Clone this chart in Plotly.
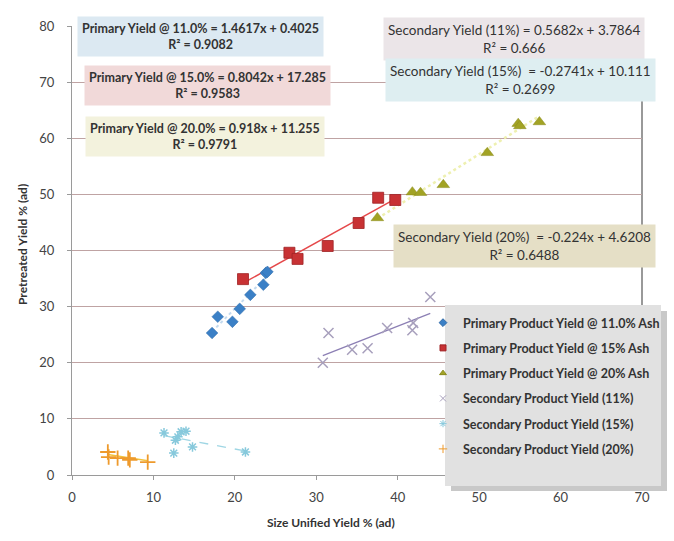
import plotly.graph_objects as go

# ---- data ----
p11_x = [17.2, 17.9, 19.7, 20.6, 21.9, 23.5, 23.8, 24.0]
p11_y = [25.3, 28.2, 27.3, 29.6, 32.1, 33.9, 36.0, 36.2]

p15_x = [21.0, 26.7, 27.7, 31.4, 35.2, 37.6, 39.7]
p15_y = [34.9, 39.6, 38.5, 40.8, 44.9, 49.4, 49.0]

p20_x = [37.5, 41.8, 42.8, 45.6, 51.0, 54.8, 55.0, 57.4]
p20_y = [45.8, 50.4, 50.3, 51.7, 57.4, 62.6, 62.2, 62.9]

s11_x = [30.8, 31.5, 34.4, 36.3, 38.7, 41.8, 41.9, 44.0]
s11_y = [20.0, 25.3, 22.3, 22.6, 26.2, 25.8, 27.1, 31.7]

s15_x = [11.3, 12.7, 13.0, 13.4, 14.0, 12.5, 14.8, 21.3]
s15_y = [7.5, 6.2, 6.8, 7.7, 7.8, 3.9, 5.0, 4.1]

s20_x = [4.4, 4.5, 5.6, 6.9, 7.1, 9.3]
s20_y = [4.1, 3.2, 3.0, 3.0, 2.7, 2.3]

# trendline coefficients (slope, intercept, R^2) as printed on chart
fit_p11 = (1.4617, 0.4025, 0.9082)
fit_p15 = (0.8042, 17.285, 0.9583)
fit_p20 = (0.918, 11.255, 0.9791)
fit_s11 = (0.5682, 3.7864, 0.666)
fit_s15 = (-0.2741, 10.111, 0.2699)
fit_s20 = (-0.224, 4.6208, 0.6488)

legend_names = [
    "Primary Product Yield @ 11.0% Ash",
    "Primary Product Yield @ 15% Ash",
    "Primary Product Yield @ 20% Ash",
    "Secondary Product Yield (11%)",
    "Secondary Product Yield (15%)",
    "Secondary Product Yield (20%)",
]

FONT = "Lato, Carlito, 'Open Sans', sans-serif"

fig = go.Figure()

def trend(xs, fit, color, dash, width=1.5):
    x0, x1 = min(xs), max(xs)
    m, b, _ = fit
    fig.add_trace(go.Scatter(x=[x0, x1], y=[m * x0 + b, m * x1 + b], mode="lines",
                             line=dict(color=color, dash=dash, width=width),
                             showlegend=False, hoverinfo="skip"))

# trendlines first (beneath markers)
trend(p11_x, fit_p11, "#c4daee", "dot", 2)
trend(p15_x, fit_p15, "#e5484a", "solid", 1.5)
trend(p20_x, fit_p20, "#eef0b0", "dot", 2.5)
trend(s11_x, fit_s11, "#8c7fb4", "solid", 1.3)
trend(s15_x, fit_s15, "#9fd6e4", "dash", 1.3)
trend(s20_x, fit_s20, "#f2c23c", "solid", 1.5)

series = [
    (p11_x, p11_y, "diamond", 9, "#3b80c6", "#2f6aa8", 0.5),
    (p15_x, p15_y, "square", 11, "#c83234", "#9e2224", 0.8),
    (p20_x, p20_y, "triangle-up", 11, "#a2a324", "#8a8a1c", 0.5),
    (s11_x, s11_y, "x-thin-open", 10, "#a79fbc", "#a79fbc", 1.5),
    (s15_x, s15_y, "asterisk-open", 8, "#87c9dc", "#87c9dc", 1.5),
    (s20_x, s20_y, "cross-thin-open", 11, "#ee9a2c", "#ee9a2c", 1.8),
]
for i, (xs, ys, sym, sz, col, lcol, lw) in enumerate(series):
    fig.add_trace(go.Scatter(x=xs, y=ys, mode="markers", name=legend_names[i],
                             marker=dict(symbol=sym, size=sz, color=col, line=dict(color=lcol, width=lw)),
                             showlegend=False))
# legend entries with small symbols (as in the original)
for i, (xs, ys, sym, sz, col, lcol, lw) in enumerate(series):
    fig.add_trace(go.Scatter(x=[None], y=[None], mode="markers", name=f"<b>{legend_names[i]}</b>",
                             marker=dict(symbol=sym, size=6, color=col, line=dict(color=lcol, width=1)),
                             legendgroup=f"g{i}", showlegend=True))

# ---- layout ----
W, H = 674, 541
L, R, T, B = 72, 32, 26, 66
pw, ph = W - L - R, H - T - B

def px(xp):
    return (xp - L) / pw

def py(yp):
    return (H - B - yp) / ph

def eq_text(label, fit, sep=" = "):
    m, b, r2 = fit
    return f"{label}{sep}{m:g}x + {b:g}<br>R² = {r2:g}"

boxes = [
    (eq_text("Primary Yield @ 11.0%", fit_p11), 200, 36, "#dce9f2", True),
    (eq_text("Primary Yield @ 15.0%", fit_p15), 207, 85, "#f1d9d9", True),
    (eq_text("Primary Yield @ 20.0%", fit_p20), 205, 136, "#f3f2dd", True),
    (eq_text("Secondary Yield (11%)", fit_s11), 514, 39, "#ebe5e8", False),
    (eq_text("Secondary Yield (15%)", fit_s15, "  = "), 520, 80, "#deeef1", False),
    (eq_text("Secondary Yield (20%)", fit_s20, "  = "), 524, 246, "#e5dfc6", False),
]
annotations = []
for txt, cx, cy, bg, bold in boxes:
    annotations.append(dict(
        text=(f"<b>{txt}</b>" if bold else txt), xref="paper", yref="paper",
        x=px(cx), y=py(cy), xanchor="center", yanchor="middle", showarrow=False,
        bgcolor=bg, borderpad=4, align="center",
        font=dict(family=FONT, size=(12.5 if bold else 13.5), color="#333333")))

annotations.append(dict(text="<b>Size Unified Yield % (ad)</b>", xref="paper", yref="paper",
                        x=px(331), y=py(522), xanchor="center", yanchor="middle", showarrow=False,
                        font=dict(family=FONT, size=12, color="#333333")))
annotations.append(dict(text="<b>Pretreated Yield % (ad)</b>", xref="paper", yref="paper",
                        x=px(22), y=py(245), xanchor="center", yanchor="middle", showarrow=False,
                        textangle=-90, font=dict(family=FONT, size=12, color="#333333")))

shapes = [
    # right border of plot area
    dict(type="line", xref="paper", yref="paper", x0=1, x1=1, y0=0, y1=1,
         line=dict(color="#555555", width=1.2), layer="below"),
    # legend shadow + background
    dict(type="rect", xref="paper", yref="paper", x0=px(451), x1=px(667), y0=py(491), y1=py(311),
         fillcolor="#c8c8c8", line=dict(width=0), layer="above"),
    dict(type="rect", xref="paper", yref="paper", x0=px(445), x1=px(661), y0=py(486), y1=py(305),
         fillcolor="#e1e1e1", line=dict(width=0), layer="above"),
]

fig.update_layout(
    width=W, height=H,
    margin=dict(l=L, r=R, t=T, b=B, autoexpand=False),
    paper_bgcolor="white", plot_bgcolor="white",
    font=dict(family=FONT, size=12, color="#444444"),
    xaxis=dict(range=[0, 70], dtick=10, showgrid=False, zeroline=False,
               showline=True, linecolor="#9a9a9a", linewidth=1.2,
               ticks="outside", ticklen=4, tickcolor="#9a9a9a", ticklabelstandoff=6,
               tickfont=dict(family=FONT, size=13, color="#444444")),
    yaxis=dict(range=[0, 80], dtick=10, showgrid=True, gridcolor="#bfa3a3", gridwidth=1.3,
               zeroline=False, showline=True, linecolor="#9a9a9a", linewidth=1.2,
               ticks="outside", ticklen=4, tickcolor="#9a9a9a", ticklabelstandoff=10,
               tickfont=dict(family=FONT, size=13, color="#444444")),
    legend=dict(x=px(423), y=py(308), xanchor="left", yanchor="top",
                bgcolor="rgba(0,0,0,0)", borderwidth=0, tracegroupgap=6,
                itemwidth=30,
                font=dict(family=FONT, size=12.5, color="#333333"),
                itemsizing="trace"),
    annotations=annotations,
    shapes=shapes,
    showlegend=True,
)

fig.write_html("out.html")
